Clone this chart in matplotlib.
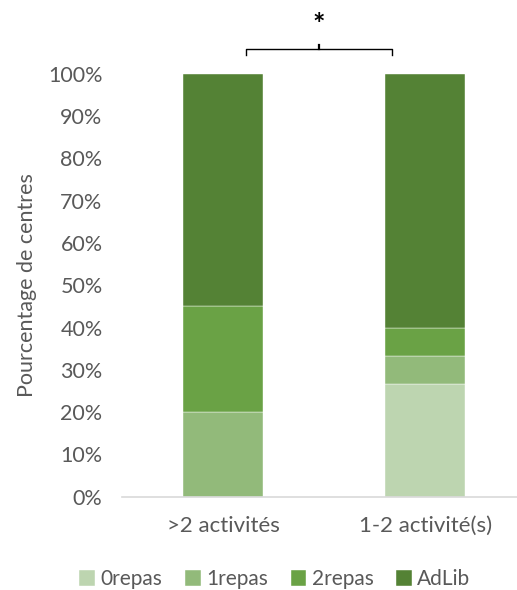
import numpy as np
import matplotlib.pyplot as plt

plt.rcParams['font.family'] = ['Lato', 'DejaVu Sans']

categories = ['>2 activités', '1-2 activité(s)']
series_names = ['0repas', '1repas', '2repas', 'AdLib']
values = {
    '0repas': [0.0, 26.67],
    '1repas': [20.0, 6.67],
    '2repas': [25.0, 6.67],
    'AdLib': [55.0, 60.0],
}
colors = ['#BDD5B0', '#92BA7A', '#6AA245', '#548235']
gris = '#595959'

fig = plt.figure(figsize=(5.17, 5.9), dpi=100)
ax = fig.add_axes([0.236, 0.158, 0.764, 0.717])

x = np.arange(len(categories))
bas = np.zeros(len(categories))
for nom, coul in zip(series_names, colors):
    v = np.array(values[nom])
    ax.bar(x, v, 0.4, bottom=bas, color=coul, label=nom,
           edgecolor='white', linewidth=0.3)
    bas += v

ax.set_xlim(-0.5, 1.455)
ax.set_ylim(0, 100)
ax.set_yticks(np.arange(0, 101, 10))
ax.set_yticklabels([f'{t}%' for t in range(0, 101, 10)])
ax.set_xticks(x)
ax.set_xticklabels(categories)
ax.tick_params(axis='y', length=0, colors=gris, labelsize=15.5, pad=14)
ax.tick_params(axis='x', length=0, colors=gris, labelsize=16, pad=14)
for s in ['top', 'right', 'left']:
    ax.spines[s].set_visible(False)
ax.spines['bottom'].set_color('#D9D9D9')
ax.spines['bottom'].set_linewidth(1.2)
ax.set_ylabel('Pourcentage de centres', color=gris, fontsize=15.5, labelpad=8)

# accolade de significativité
x1, x2 = 0.112, 0.837
ax.plot([x1, x1, x2, x2], [104.5, 105.8, 105.8, 104.5], color='black',
        lw=1, clip_on=False)
ax.plot([(x1 + x2) / 2] * 2, [105.8, 106.8], color='black', lw=1.6, clip_on=False)
ax.text((x1 + x2) / 2, 111.5, '*', ha='center', va='center', fontsize=21,
        fontweight='bold', clip_on=False)

ax.legend(loc='center', bbox_to_anchor=(0.387, -0.195),
          ncol=4, frameon=False, handlelength=0.75, handleheight=0.75,
          handletextpad=0.25, columnspacing=1.1, fontsize=15,
          labelcolor=gris, bbox_transform=ax.transAxes)

fig.savefig('out.png', dpi=100)
